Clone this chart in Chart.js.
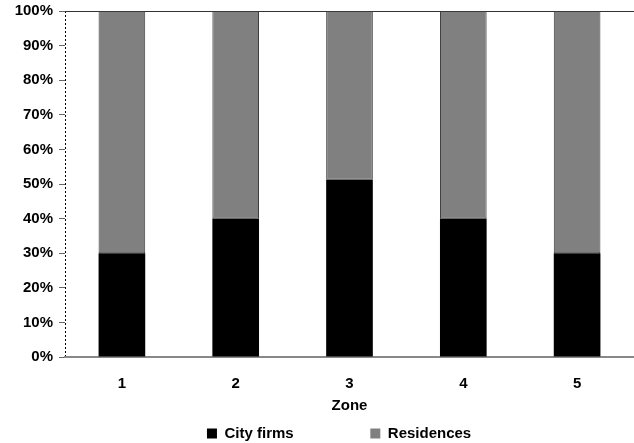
<!DOCTYPE html>
<html>
<head>
<meta charset="utf-8">
<script src="https://cdn.jsdelivr.net/npm/chart.js@4"></script>
<style>
  html, body { margin: 0; padding: 0; background: #fff; }
  #wrap { width: 634px; height: 443px; }
</style>
</head>
<body>
<div id="wrap"><canvas id="zoneChart" width="634" height="443"></canvas></div>
<script>
const zones = ['1', '2', '3', '4', '5'];
const cityFirms = [30, 40, 51.2, 40, 30];
const residences = [70, 60, 48.8, 60, 70];
const yTicks = [0, 10, 20, 30, 40, 50, 60, 70, 80, 90, 100];

const font = { family: '"Liberation Sans", Arial, sans-serif', size: 15, weight: 'bold' };

// legend gap: Chart.js only spaces legend items by labels.padding, so pad the text
const legendText = ['City firms' + ' '.repeat(16), 'Residences' + ' '.repeat(5)];

const ctx = document.getElementById('zoneChart').getContext('2d');

const zoneChart = new Chart(ctx, {
    type: 'bar',
    data: {
        labels: zones,
        datasets: [{
            label: 'City firms',
            data: cityFirms,
            backgroundColor: '#000000',
            borderWidth: 0
        }, {
            label: 'Residences',
            data: residences,
            backgroundColor: '#808080',
            borderColor: '#3a3a3a',
            borderWidth: 1,
            borderSkipped: false
        }]
    },
    options: {
        responsive: false,
        animation: false,
        layout: { padding: 0 },
        datasets: {
            bar: { categoryPercentage: 1, barPercentage: 0.41 }
        },
        scales: {
            x: {
                stacked: true,
                // only the first (left edge) grid line is shown: the dashed value axis
                grid: {
                    color: (c) => c.index === 0 ? '#000000' : 'rgba(0,0,0,0)',
                    drawTicks: true,
                    tickLength: 17,
                    tickColor: 'rgba(0,0,0,0)'
                },
                border: { display: true, color: '#888888', width: 2, dash: [2, 2] },
                ticks: { color: '#000', font: font, padding: 1 },
                title: {
                    display: true,
                    text: 'Zone',
                    color: '#000',
                    font: font,
                    padding: { top: 3, bottom: 1 }
                }
            },
            y: {
                stacked: true,
                min: 0,
                max: 100,
                afterBuildTicks: (axis) => { axis.ticks = yTicks.map(v => ({ value: v })); },
                afterFit: (axis) => { axis.width = 65; axis.paddingTop = 11; },
                grid: {
                    color: (c) => (c.tick && c.tick.value === 100) ? '#333333' : 'rgba(0,0,0,0)',
                    tickColor: '#666666',
                    tickLength: 6,
                    drawTicks: true
                },
                border: { display: false },
                ticks: {
                    color: '#000',
                    font: font,
                    padding: 6,
                    callback: (v) => v + '%'
                }
            }
        },
        plugins: {
            legend: {
                position: 'bottom',
                fullSize: false,
                maxHeight: 27,
                labels: {
                    color: '#000',
                    font: font,
                    boxWidth: 10,
                    boxHeight: 10,
                    padding: 10,
                    generateLabels: (chart) => chart.data.datasets.map((ds, i) => ({
                        text: legendText[i],
                        fillStyle: ds.backgroundColor,
                        strokeStyle: ds.backgroundColor,
                        lineWidth: 0,
                        hidden: false,
                        datasetIndex: i
                    }))
                }
            },
            tooltip: { enabled: false }
        }
    }
});
</script>
</body>
</html>
